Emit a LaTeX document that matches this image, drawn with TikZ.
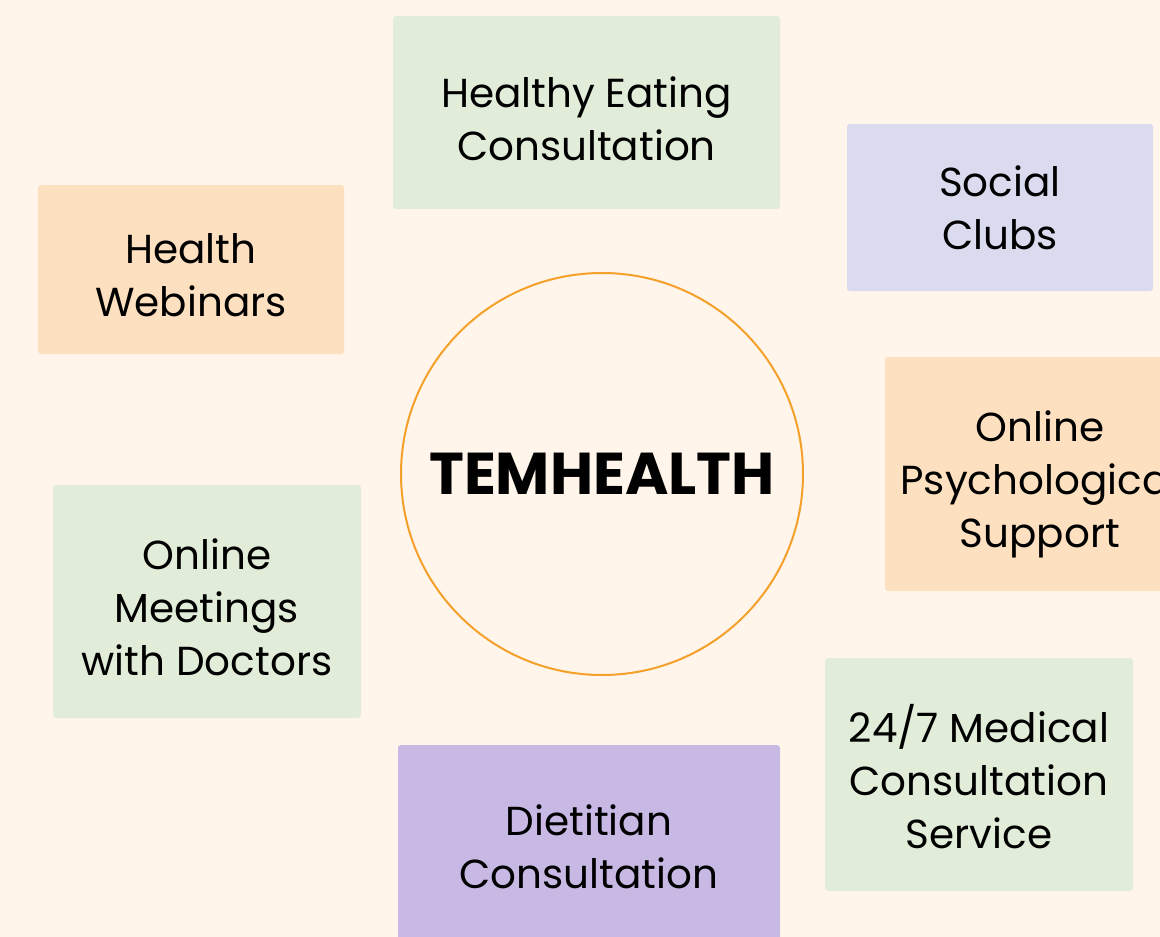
\documentclass[tikz,border=0pt]{standalone}
\usepackage{fontspec}
\setmainfont{Poppins}
\usetikzlibrary{positioning}
\definecolor{PageCream}{RGB}{255,245,234}
\definecolor{SageBand}{RGB}{225,237,217}
\definecolor{LilacBand}{RGB}{219,219,239}
\definecolor{PeachBand}{RGB}{253,224,191}
\definecolor{PurpleBand}{RGB}{200,184,228}
\definecolor{RingOrange}{RGB}{245,160,42}
\tikzset{
  cardtext/.style={align=center,inner sep=0pt,
    font=\fontsize{40.5}{53}\selectfont},
  card/.style 2 args={rounded corners=3pt,draw=none,inner sep=0pt,
    label={[cardtext,yshift=#2]center:#1}},
  sagecard/.style 2 args={card={#1}{#2},fill=SageBand},
  lilaccard/.style 2 args={card={#1}{#2},fill=LilacBand},
  peachcard/.style 2 args={card={#1}{#2},fill=PeachBand},
  purplecard/.style 2 args={card={#1}{#2},fill=PurpleBand},
  hub/.style={circle,draw=RingOrange,line width=2pt,fill=PageCream,
    minimum size=402pt,inner sep=0pt,font=\fontsize{59}{70}\selectfont\bfseries}
}

\begin{document}
\begin{tikzpicture}[x=1pt,y=-1pt]
  \fill[PageCream] (0,0) rectangle (1160,937);
  \useasboundingbox (0,0) rectangle (1160,937);

  \node[hub] (core) at (602,474) {TEMHEALTH};

  \node[sagecard={Healthy Eating\\Consultation}{-6pt},minimum width=387pt,minimum height=193pt] (eating) at (586.5,112.5) {};
  \node[lilaccard={Social\\Clubs}{0pt},minimum width=306pt,minimum height=167pt] (clubs) at (1000,207.5) {};
  \node[peachcard={Health\\Webinars}{-6pt},minimum width=306pt,minimum height=169pt] (webinars) at (191,269.5) {};
  \node[peachcard={Online\\Psychological\\Support}{-10pt},minimum width=310pt,minimum height=234pt] (psych) at (1040,474) {};
  \node[sagecard={Online\\Meetings\\with Doctors}{-6pt},minimum width=308pt,minimum height=233pt] (meetings) at (207,601.5) {};
  \node[sagecard={24/7 Medical\\Consultation\\Service}{-2pt},minimum width=308pt,minimum height=233pt] (medical) at (979,774.5) {};
  \node[purplecard={Dietitian\\Consultation}{1pt},minimum width=382pt,minimum height=206pt] (dietitian) at (589,848) {};
\end{tikzpicture}
\end{document}
